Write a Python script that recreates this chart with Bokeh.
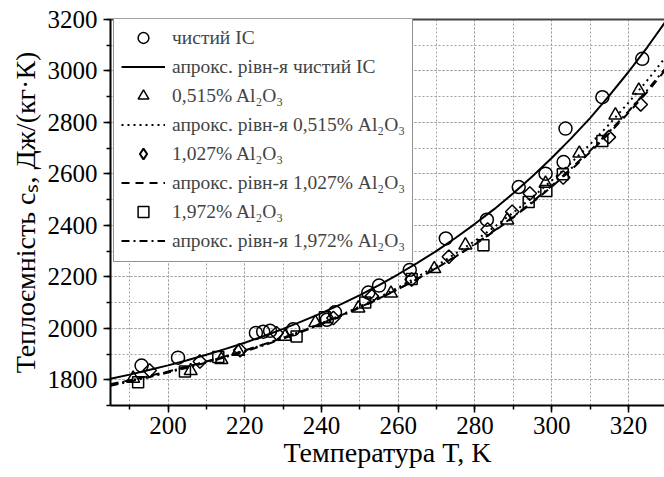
import math
from bokeh.plotting import figure
from bokeh.models import (Range1d, LinearAxis, SingleIntervalTicker, FixedTicker,
                          Legend, LegendItem)
from bokeh.embed import file_html
from bokeh.resources import INLINE

# ---------------- data ----------------
T_pure = [193.1, 202.6, 222.9, 224.8, 226.6, 232.6, 241.4, 243.5, 252.2, 255.0, 263.0,
          272.4, 283.1, 291.4, 298.4, 303.1, 303.6, 313.2, 323.6]
C_pure = [1855, 1886, 1982, 1987, 1990, 1996, 2033, 2062, 2139, 2166, 2227,
          2349, 2422, 2549, 2601, 2646, 2776, 2898, 3047]

T_515 = [190.9, 205.9, 213.9, 218.3, 230.5, 238.4, 249.6, 258.1, 269.4, 277.5, 288.4,
         298.4, 307.2, 316.6, 322.7]
C_515 = [1805, 1835, 1878, 1910, 1968, 2022, 2078, 2136, 2231, 2323, 2420,
         2563, 2680, 2828, 2925]

T_1027 = [195.2, 208.3, 218.8, 228.3, 243.1, 253.1, 263.5, 273.2, 283.3, 289.7, 294.3,
          303.0, 314.9, 323.2]
C_1027 = [1836, 1871, 1915, 1981, 2040, 2125, 2190, 2278, 2384, 2453, 2524,
          2586, 2743, 2870]

T_1972 = [192.2, 204.4, 213.1, 233.5, 240.9, 251.4, 263.5, 282.2, 294.0, 298.6, 302.9, 313.2]
C_1972 = [1790, 1832, 1888, 1968, 2043, 2100, 2192, 2323, 2491, 2534, 2599, 2728]

# approximation curves, read at every 5 K
T_fit = [185, 190, 195, 200, 205, 210, 215, 220, 225, 230, 235, 240, 245, 250, 255,
         260, 265, 270, 275, 280, 285, 290, 295, 300, 305, 310, 315, 320, 325, 330]
fit_pure = [1804, 1820, 1838, 1856, 1876, 1897, 1920, 1944, 1970, 1998, 2028, 2059, 2093, 2129, 2168,
            2210, 2254, 2301, 2352, 2406, 2463, 2525, 2591, 2662, 2737, 2817, 2904, 2996, 3094, 3199]
fit_515 = [1781, 1797, 1814, 1831, 1850, 1870, 1891, 1913, 1937, 1963, 1990, 2020, 2051, 2085, 2120,
           2159, 2200, 2244, 2291, 2340, 2393, 2450, 2510, 2574, 2642, 2715, 2793, 2877, 2965, 3060]
fit_1027 = [1783, 1798, 1815, 1832, 1851, 1871, 1892, 1914, 1938, 1963, 1990, 2019, 2050, 2082, 2116,
            2153, 2192, 2234, 2279, 2326, 2377, 2431, 2489, 2550, 2615, 2684, 2758, 2837, 2920, 3010]
fit_1972 = [1777, 1793, 1810, 1828, 1847, 1867, 1888, 1910, 1934, 1960, 1987, 2016, 2047, 2080, 2115,
            2152, 2192, 2235, 2280, 2328, 2379, 2434, 2492, 2554, 2620, 2690, 2764, 2843, 2927, 3017]

legend_labels = ["чистий ІС", "апрокс. рівн-я чистий ІС",
                 "0,515% Al₂O₃", "апрокс. рівн-я 0,515% Al₂O₃",
                 "1,027% Al₂O₃", "апрокс. рівн-я 1,027% Al₂O₃",
                 "1,972% Al₂O₃", "апрокс. рівн-я 1,972% Al₂O₃"]
x_title = "Температура T, K"
y_title = "Теплоємність cₛ, Дж/(кг·К)"

FONT = "Liberation Serif"

p = figure(width=664, height=477, output_backend="svg", toolbar_location=None,
           x_range=Range1d(185, 329.4), y_range=Range1d(1700, 3200),
           min_border_left=110, min_border_right=0, min_border_top=19, min_border_bottom=72)
p.outline_line_color = None
p.background_fill_color = "white"

# axes
for ax in (p.xaxis[0], p.yaxis[0]):
    ax.axis_line_width = 2
    ax.axis_line_color = "black"
    ax.major_tick_line_width = 1.5
    ax.minor_tick_line_width = 1.5
    ax.major_tick_in = 0
    ax.major_tick_out = 7
    ax.minor_tick_in = 0
    ax.minor_tick_out = 4
    ax.major_label_text_font = FONT
    ax.major_label_text_font_size = "25px"
    ax.major_label_text_color = "black"
    ax.axis_label_text_font = FONT
    ax.axis_label_text_font_size = "28px"
    ax.axis_label_text_font_style = "normal"
    ax.axis_label_text_color = "black"
p.xaxis.ticker = SingleIntervalTicker(interval=20, num_minor_ticks=2)
p.yaxis.ticker = SingleIntervalTicker(interval=200, num_minor_ticks=2)
p.xaxis.major_label_standoff = 4
p.yaxis.major_label_standoff = 6
p.xaxis.axis_label = x_title
p.yaxis.axis_label = y_title
p.xaxis.axis_label_standoff = 0
p.yaxis.axis_label_standoff = 4

top = LinearAxis(ticker=FixedTicker(ticks=[]), axis_line_color="#444444", axis_line_width=2,
                 major_tick_line_color=None, minor_tick_line_color=None,
                 major_label_text_font_size="0px")
p.add_layout(top, "above")

# grid
for g in (p.xgrid[0], p.ygrid[0]):
    g.grid_line_color = "#a0a0a0"
    g.grid_line_dash = "2 2"
    g.grid_line_width = 1
    g.minor_grid_line_color = "#a0a0a0"
    g.minor_grid_line_dash = "2 2"
    g.minor_grid_line_width = 1

# fits
l_pure = p.line(T_fit, fit_pure, line_color="black", line_width=2)
l_515 = p.line(T_fit, fit_515, line_color="black", line_width=2, line_dash="2 4")
l_1027 = p.line(T_fit, fit_1027, line_color="black", line_width=2, line_dash="8 6")
l_1972 = p.line(T_fit, fit_1972, line_color="black", line_width=2, line_dash="8 4 2 4")

# markers
mk = dict(fill_color=None, line_color="black", line_width=1.5)
s_pure = p.scatter(T_pure, C_pure, marker="circle", size=13, **mk)
s_515 = p.scatter(T_515, C_515, marker="triangle", size=13, **mk)
s_1027 = p.scatter(T_1027, C_1027, marker="square", angle=math.pi / 4, size=9.5, **mk)
s_1972 = p.scatter(T_1972, C_1972, marker="square", size=11, **mk)
# hidden twin of the diamond series, used only for its legend symbol
# (the legend does not rotate markers)
lg_1027 = p.scatter(T_1027, C_1027, marker="diamond", size=13, fill_color=None,
                    line_color="black", line_width=2, visible=False)

renderers = [s_pure, l_pure, s_515, l_515, lg_1027, l_1027, s_1972, l_1972]
items = [LegendItem(label=lab, renderers=[r]) for lab, r in zip(legend_labels, renderers)]
legend = Legend(items=items, location=(3, 143), orientation="vertical",
                glyph_width=44, glyph_height=27, label_height=27, spacing=2, padding=7,
                label_standoff=7, label_text_font=FONT, label_text_font_size="19.5px",
                border_line_color="#222222", border_line_width=1.5,
                background_fill_color="white", background_fill_alpha=1.0, margin=0,
                click_policy="none")
p.add_layout(legend, "center")

open("out.html", "w").write(file_html(p, INLINE))
